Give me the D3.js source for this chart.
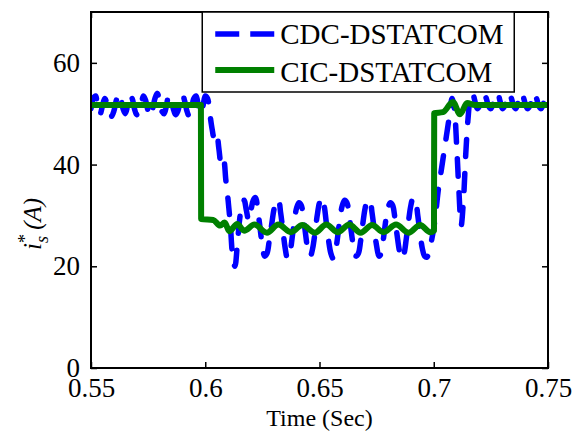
<!DOCTYPE html>
<html>
<head>
<meta charset="utf-8">
<script src="https://cdn.jsdelivr.net/npm/d3@7"></script>
<style>
  html, body { margin: 0; padding: 0; background: #fff; }
  svg { display: block; }
  svg text { font-family: "Liberation Serif", "DejaVu Serif", serif; fill: #000; }
</style>
</head>
<body>
<svg id="chart" width="583" height="432"></svg>
<script>
// Source current reference i_s* for the two DSTATCOM controllers.
const SERIF = "'Liberation Serif', 'DejaVu Serif', serif";

// CDC-DSTATCOM: sampled every 1 ms starting at 0.550 s
const cdcStart = 0.55;
const cdcStep = 0.001;
const cdcCurrent = [
  // 0.550 - 0.599 s, steady state
  51, 53, 53.5, 51, 50, 51.5, 53, 52, 50.5, 49.5,
  50.5, 52.5, 54, 53, 51, 50, 51.5, 53.5, 53, 51,
  49.8, 50.5, 52, 53.5, 52.5, 50.5, 49.5, 51, 53, 54,
  52.5, 50.5, 50, 51.5, 53.5, 53, 51, 49.8, 50.5, 52.5,
  53.8, 52.5, 50.5, 49.5, 51, 53, 53.5, 51.5, 50, 51.5,
  // 0.600 - 0.617 s, load step down
  53.5, 53, 50, 47, 45, 46, 43, 40, 41, 37,
  33, 28, 22, 20, 24, 29, 32, 33,
  // 0.618 - 0.718 s, reduced load and recovery
  31, 29, 31, 33, 33.5, 31, 27.5, 24, 22, 22.5,
  25, 28, 31, 33, 33, 30.5, 27, 23.5, 21.5, 22.5,
  25.5, 29, 31.5, 32.5, 32, 29.5, 26, 23, 22, 23.5,
  26.5, 30, 32.5, 33.5, 32, 28.5, 25, 22.5, 21.5, 23,
  26, 29.5, 32, 33, 32.5, 30, 26.5, 23.5, 22, 22.5,
  25, 28.5, 31.5, 33, 33, 30.5, 27, 24, 22, 22.5,
  25.5, 29, 31.5, 32.5, 32, 29.5, 26, 23, 21.5, 22.5,
  25.5, 29, 32, 33.5, 33, 30, 26.5, 23.5, 22, 21.8,
  23, 25, 27.5, 31, 35, 38, 41, 44, 47, 50,
  53, 51, 44, 35, 28, 33, 42, 49, 53, 54,
  52.5,
  // 0.719 - 0.750 s, steady state
  51, 51.5, 53, 54, 53, 51.5, 51, 52, 53.5, 54,
  52.5, 51, 51.5, 53, 54, 53, 51.5, 51, 52.5, 54,
  53.5, 52, 51, 51.5, 53, 54, 53, 51.5, 51, 52,
  53.5, 53
];

// CIC-DSTATCOM: breakpoints (s) and current (A)
const cicTime = [
  0.550, 0.5981, 0.5982, 0.6035, 0.6065, 0.6085, 0.6105, 0.614, 0.617, 0.6215,
  0.627, 0.632, 0.6375, 0.6425, 0.648, 0.653, 0.658, 0.663, 0.668, 0.673,
  0.678, 0.6835, 0.689, 0.694, 0.6985, 0.7001, 0.7002, 0.704, 0.7084, 0.7115,
  0.7146, 0.718, 0.750
];
const cicCurrent = [
  51.7, 51.7, 29.3, 29.1, 28.0, 28.6, 26.9, 28.3, 27.0, 28.2,
  26.6, 28.2, 26.7, 28.1, 26.6, 28.2, 26.7, 28.2, 26.6, 28.1,
  26.7, 28.2, 26.6, 28.1, 26.7, 27.0, 50.1, 50.3, 52.3, 49.9,
  52.1, 51.7, 51.7
];

const xTicks = [0.55, 0.6, 0.65, 0.7, 0.75];
const xTickLabels = ["0.55", "0.6", "0.65", "0.7", "0.75"];
const yTicks = [0, 20, 40, 60];
const seriesNames = ["CDC-DSTATCOM", "CIC-DSTATCOM"];

const cdcData = cdcCurrent.map((v, i) => ({ t: cdcStart + i * cdcStep, v }));
const cicData = cicTime.map((t, i) => ({ t, v: cicCurrent[i] }));

const margin = { left: 91, top: 12, right: 35, bottom: 64 };
const W = 583, H = 432;
const iw = W - margin.left - margin.right;   // 457
const ih = H - margin.top - margin.bottom;    // 356

const svg = d3.select("#chart");
const x = d3.scaleLinear().domain([0.55, 0.75]).range([0, iw]);
const y = d3.scaleLinear().domain([0, 70]).range([ih, 0]);

const g = svg.append("g").attr("transform", `translate(${margin.left},${margin.top})`);

g.append("defs").append("clipPath").attr("id", "plotClip")
  .append("rect").attr("x", 0).attr("y", 0).attr("width", iw).attr("height", ih);

const plot = g.append("g").attr("clip-path", "url(#plotClip)");

const cdcLine = d3.line().x(d => x(d.t)).y(d => y(d.v)).curve(d3.curveCatmullRom.alpha(0.5));
const cicLine = d3.line().x(d => x(d.t)).y(d => y(d.v)).curve(d3.curveMonotoneX);

plot.append("path").datum(cdcData)
  .attr("d", cdcLine)
  .attr("fill", "none")
  .attr("stroke", "#0000ff")
  .attr("stroke-width", 5.5)
  .attr("stroke-dasharray", "17,17")
  .attr("stroke-linecap", "round")
  .attr("stroke-linejoin", "round");

plot.append("path").datum(cicData)
  .attr("d", cicLine)
  .attr("fill", "none")
  .attr("stroke", "#008000")
  .attr("stroke-width", 6)
  .attr("stroke-linejoin", "round");

// Axes: ticks point inward on all four sides
const tickLen = 6;
const fmt = d => xTickLabels[xTicks.indexOf(d)];

const xAxisB = g.append("g").attr("transform", `translate(0,${ih})`)
  .call(d3.axisBottom(x).tickValues(xTicks).tickSize(-tickLen).tickPadding(10).tickFormat(fmt));
const xAxisT = g.append("g")
  .call(d3.axisTop(x).tickValues(xTicks).tickSize(-tickLen).tickFormat(""));
const yAxisL = g.append("g")
  .call(d3.axisLeft(y).tickValues(yTicks).tickSize(-tickLen).tickPadding(11));
const yAxisR = g.append("g").attr("transform", `translate(${iw},0)`)
  .call(d3.axisRight(y).tickValues(yTicks).tickSize(-tickLen).tickFormat(""));

[xAxisB, xAxisT, yAxisL, yAxisR].forEach(a => {
  a.attr("font-family", SERIF);
  a.select(".domain").remove();
  a.selectAll(".tick line").attr("stroke", "#000").attr("stroke-width", 1.5);
  a.selectAll(".tick text")
    .attr("font-family", SERIF)
    .style("font-family", SERIF)
    .style("font-size", "27px")
    .attr("fill", "#000");
});
xAxisB.selectAll(".tick text").attr("dy", "0.72em");

g.append("rect")
  .attr("x", 0).attr("y", 0).attr("width", iw).attr("height", ih)
  .attr("fill", "none").attr("stroke", "#000").attr("stroke-width", 2);

// Legend
const lg = g.append("g").attr("transform", `translate(${x(0.6) - 3},0)`);
lg.append("rect")
  .attr("x", 0).attr("y", 0).attr("width", 312).attr("height", 80)
  .attr("fill", "#fff").attr("stroke", "#000").attr("stroke-width", 1.5);
lg.append("line")
  .attr("x1", 13).attr("x2", 72).attr("y1", 22).attr("y2", 22)
  .attr("stroke", "#0000ff").attr("stroke-width", 5.5)
  .attr("stroke-dasharray", "24,11");
lg.append("line")
  .attr("x1", 13).attr("x2", 72).attr("y1", 58).attr("y2", 58)
  .attr("stroke", "#008000").attr("stroke-width", 6);
lg.selectAll("text.lab").data(seriesNames).join("text")
  .attr("class", "lab")
  .attr("x", 78)
  .attr("y", (d, i) => 32 + i * 38)
  .style("font-family", SERIF)
  .style("font-size", "29px")
  .text(d => d);

// Axis titles
svg.append("text")
  .attr("x", margin.left + iw / 2)
  .attr("y", 426)
  .attr("text-anchor", "middle")
  .style("font-family", SERIF)
  .style("font-size", "24px")
  .text("Time (Sec)");

const yl = svg.append("text")
  .attr("transform", `translate(41,${margin.top + ih / 2 + 34}) rotate(-90)`)
  .attr("text-anchor", "middle")
  .style("font-family", SERIF)
  .style("font-size", "25px")
  .style("font-style", "italic");
yl.append("tspan").text("i");
yl.append("tspan").attr("dy", -10).style("font-size", "18px").style("font-style", "normal").text("*");
yl.append("tspan").attr("dx", -9).attr("dy", 17).style("font-size", "18px").text("s");
yl.append("tspan").attr("dy", -7).text(" (A)");
</script>
</body>
</html>
